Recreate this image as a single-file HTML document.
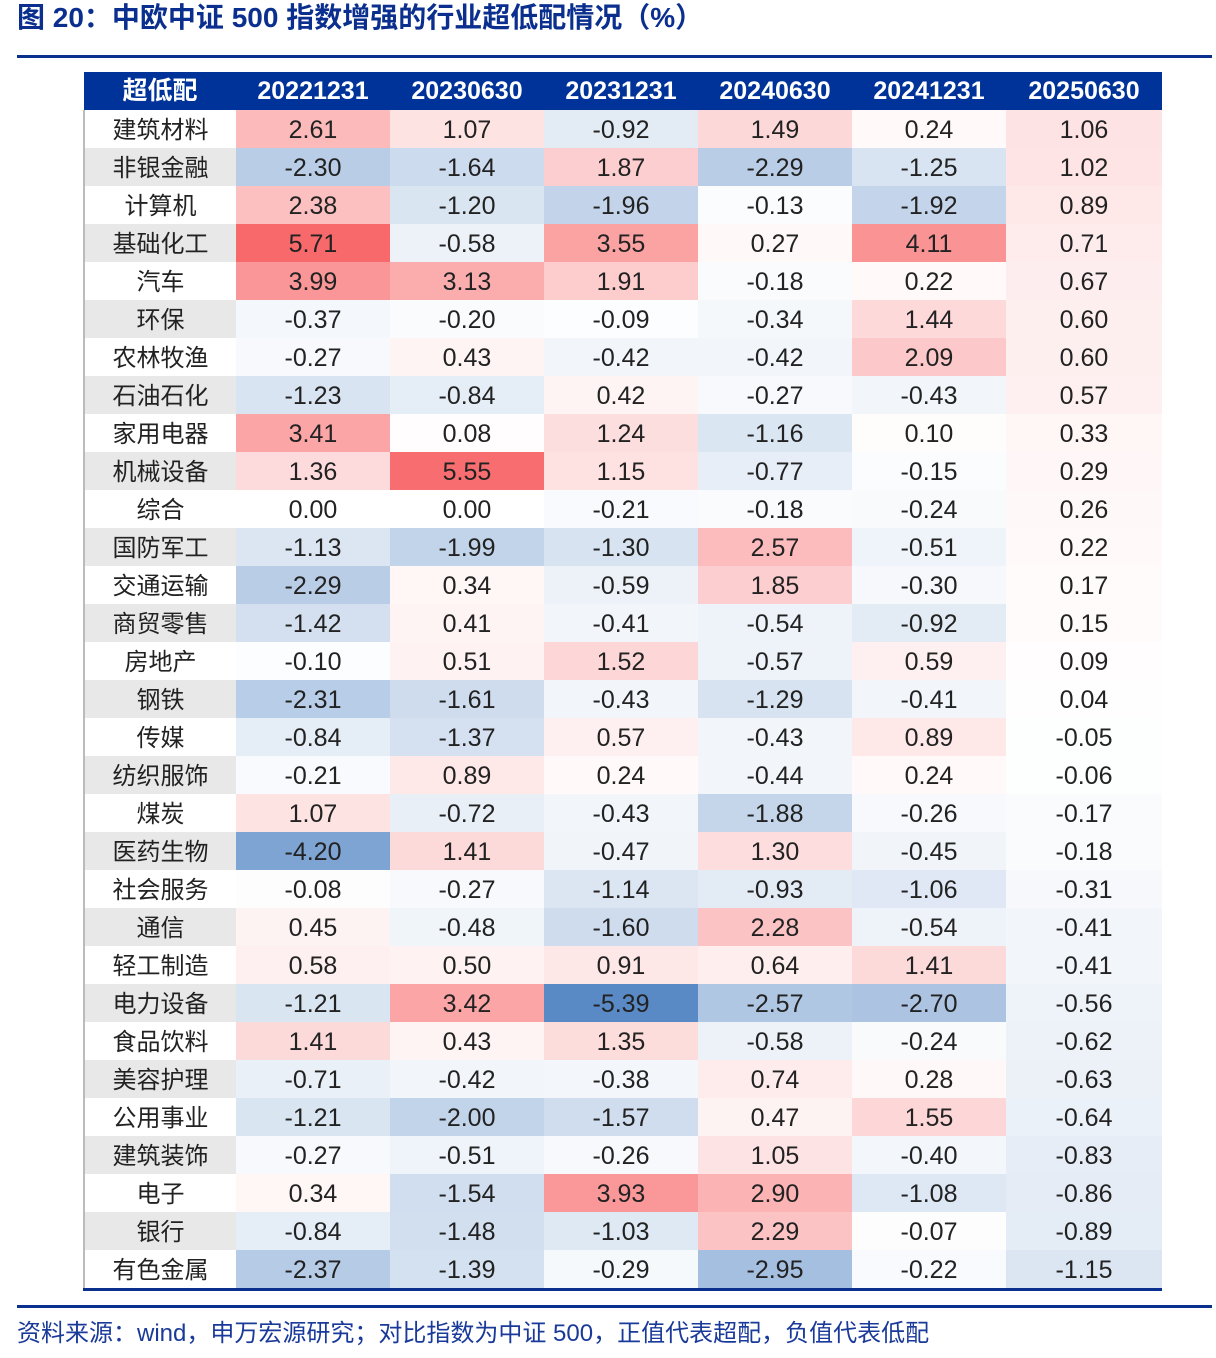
<!DOCTYPE html>
<html><head><meta charset="utf-8">
<style>
html,body{margin:0;padding:0;background:#fff;width:1216px;height:1358px;overflow:hidden;position:relative;font-family:"Liberation Sans","Noto Sans CJK SC",sans-serif;}
#title{position:absolute;left:17px;top:0px;font-size:28px;font-weight:bold;color:#0b2f8e;line-height:36px;white-space:nowrap;}
.rule{position:absolute;left:17px;width:1195px;height:3px;background:#0b2f8e;}
#tbl{position:absolute;left:83px;top:72px;border-collapse:collapse;table-layout:fixed;}
#tbl th{background:#003399;color:#fff;font-size:25px;font-weight:bold;height:38px;padding:0;text-align:center;line-height:38px;}
#tbl td{height:38px;padding:0;text-align:center;font-size:25px;color:#222;line-height:38px;}
#tbl td span{display:inline-block;line-height:38px;}
#tbl td.lab{border-left:2px solid #bbb;font-size:24px;}
#tbl td.lab span{position:relative;top:2px;}
#tbl td.num span{position:relative;top:1px;}
#tbl tr.last td{border-bottom:3px solid #0b2f8e;}
#src{position:absolute;left:17px;top:1318px;font-size:24px;color:#1a3a9a;white-space:nowrap;line-height:32px;}
</style></head>
<body>
<div id="title">图 20：中欧中证 500 指数增强的行业超低配情况（%）</div>
<div class="rule" style="top:55px"></div>
<table id="tbl">
<colgroup><col style="width:152px"><col style="width:154px"><col style="width:154px"><col style="width:154px"><col style="width:154px"><col style="width:154px"><col style="width:156px"></colgroup>
<thead><tr id="hdr"></tr></thead>
<tbody id="body"></tbody>
</table>
<div class="rule" style="top:1305px"></div>
<div id="src">资料来源：wind，申万宏源研究；对比指数为中证 500，正值代表超配，负值代表低配</div>
<script>
const columns = ["20221231","20230630","20231231","20240630","20241231","20250630"];
const industries = ["建筑材料","非银金融","计算机","基础化工","汽车","环保","农林牧渔","石油石化","家用电器","机械设备","综合","国防军工","交通运输","商贸零售","房地产","钢铁","传媒","纺织服饰","煤炭","医药生物","社会服务","通信","轻工制造","电力设备","食品饮料","美容护理","公用事业","建筑装饰","电子","银行","有色金属"];
const v20221231 = [2.61,-2.30,2.38,5.71,3.99,-0.37,-0.27,-1.23,3.41,1.36,0.00,-1.13,-2.29,-1.42,-0.10,-2.31,-0.84,-0.21,1.07,-4.20,-0.08,0.45,0.58,-1.21,1.41,-0.71,-1.21,-0.27,0.34,-0.84,-2.37];
const v20230630 = [1.07,-1.64,-1.20,-0.58,3.13,-0.20,0.43,-0.84,0.08,5.55,0.00,-1.99,0.34,0.41,0.51,-1.61,-1.37,0.89,-0.72,1.41,-0.27,-0.48,0.50,3.42,0.43,-0.42,-2.00,-0.51,-1.54,-1.48,-1.39];
const v20231231 = [-0.92,1.87,-1.96,3.55,1.91,-0.09,-0.42,0.42,1.24,1.15,-0.21,-1.30,-0.59,-0.41,1.52,-0.43,0.57,0.24,-0.43,-0.47,-1.14,-1.60,0.91,-5.39,1.35,-0.38,-1.57,-0.26,3.93,-1.03,-0.29];
const v20240630 = [1.49,-2.29,-0.13,0.27,-0.18,-0.34,-0.42,-0.27,-1.16,-0.77,-0.18,2.57,1.85,-0.54,-0.57,-1.29,-0.43,-0.44,-1.88,1.30,-0.93,2.28,0.64,-2.57,-0.58,0.74,0.47,1.05,2.90,2.29,-2.95];
const v20241231 = [0.24,-1.25,-1.92,4.11,0.22,1.44,2.09,-0.43,0.10,-0.15,-0.24,-0.51,-0.30,-0.92,0.59,-0.41,0.89,0.24,-0.26,-0.45,-1.06,-0.54,1.41,-2.70,-0.24,0.28,1.55,-0.40,-1.08,-0.07,-0.22];
const v20250630 = [1.06,1.02,0.89,0.71,0.67,0.60,0.60,0.57,0.33,0.29,0.26,0.22,0.17,0.15,0.09,0.04,-0.05,-0.06,-0.17,-0.18,-0.31,-0.41,-0.41,-0.56,-0.62,-0.63,-0.64,-0.83,-0.86,-0.89,-1.15];
const series = [v20221231,v20230630,v20231231,v20240630,v20241231,v20250630];

const all = series.flat();
const vmax = Math.max(...all), vmin = Math.min(...all);
function colorFor(v){
  let t, c;
  if (v >= 0){ t = vmax ? v/vmax : 0; c=[248,105,107]; }
  else { t = v/vmin; c=[90,138,198]; }
  const w=[255,255,255];
  return 'rgb('+w.map((x,i)=>Math.round(x+(c[i]-x)*t)).join(',')+')';
}
const hdr = document.getElementById('hdr');
const h0 = document.createElement('th');
h0.textContent = '超低配';


hdr.appendChild(h0);
columns.forEach(c=>{
  const th = document.createElement('th');
  th.textContent = c;
  
  
  hdr.appendChild(th);
});
const body = document.getElementById('body');
industries.forEach((ind,r)=>{
  const tr = document.createElement('tr');
  
  
  if (r === industries.length-1) tr.className = 'last';
  const td = document.createElement('td');
  td.className = 'lab';
  td.innerHTML = '<span>' + ind + '</span>';
  td.style.background = (r % 2) ? '#e8e8e8' : '#ffffff';
  
  
  tr.appendChild(td);
  series.forEach((s,ci)=>{
    const c = document.createElement('td');
    c.className = 'num';
    c.innerHTML = '<span>' + s[r].toFixed(2) + '</span>';
    c.style.background = colorFor(s[r]);
    
    
    tr.appendChild(c);
  });
  body.appendChild(tr);
});
</script>
</body></html>
